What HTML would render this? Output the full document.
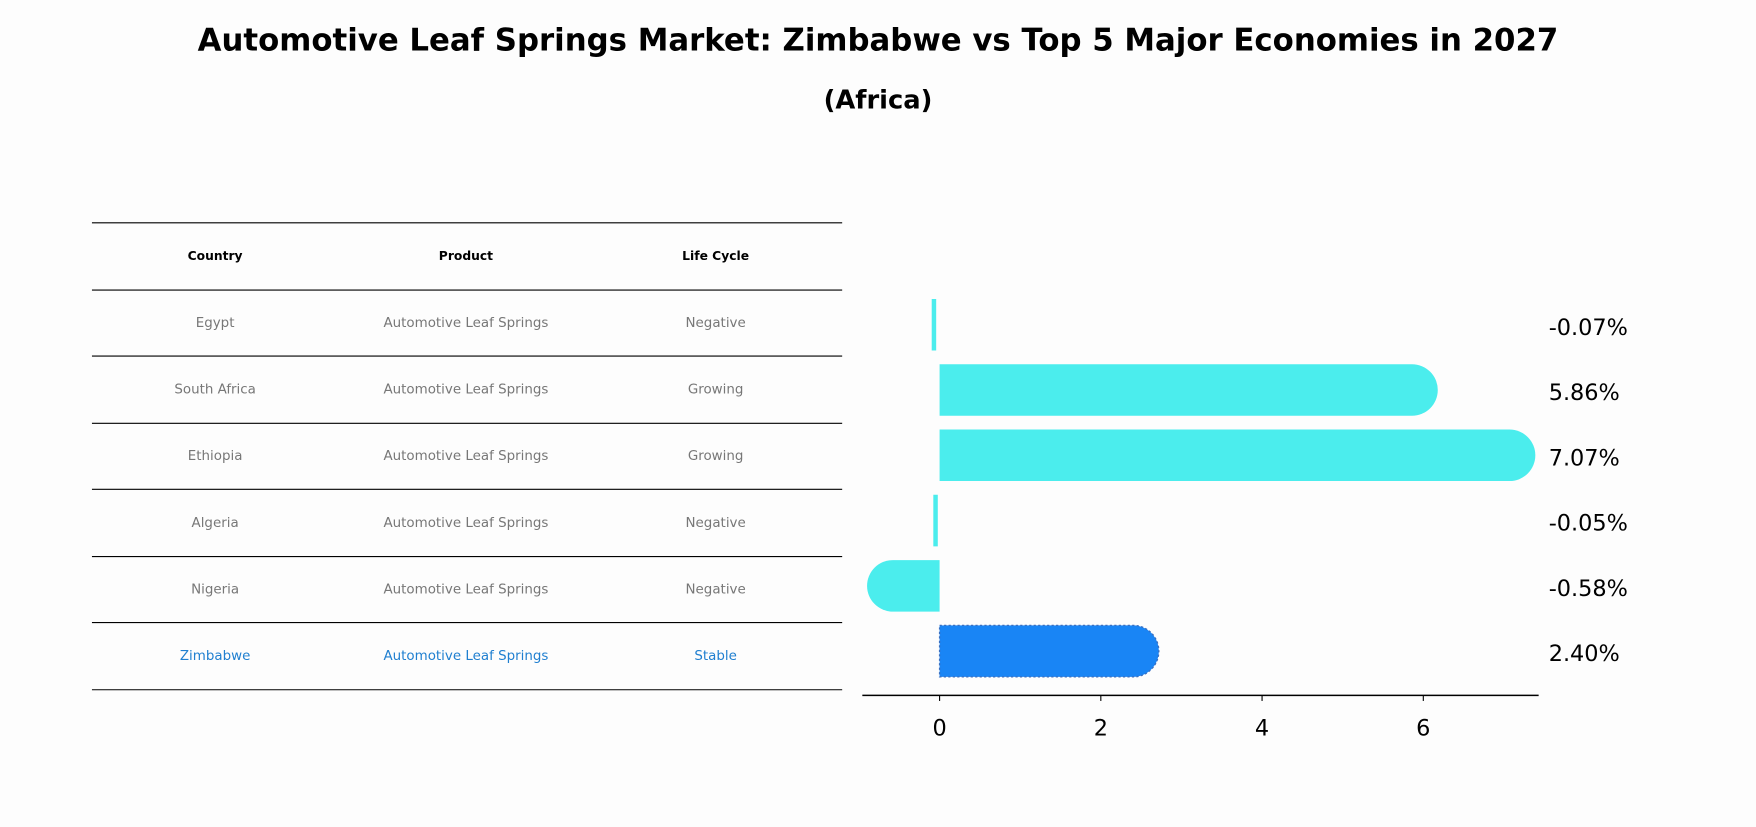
<!DOCTYPE html>
<html><head><meta charset="utf-8"><style>
body{margin:0;background:#fdfdfd;width:1756px;height:823px;overflow:hidden;font-family:"DejaVu Sans","Liberation Sans",sans-serif}
</style></head><body>
<svg id="chart" width="1756" height="823" viewBox="0 0 1568 735" xmlns="http://www.w3.org/2000/svg" font-family="DejaVu Sans, Liberation Sans, sans-serif">
<text x="784" y="45" text-anchor="middle" font-size="27.5" font-weight="bold" fill="#000">Automotive Leaf Springs Market: Zimbabwe vs Top 5 Major Economies in 2027</text>
<text x="784" y="97" text-anchor="middle" font-size="23" font-weight="bold" fill="#000">(Africa)</text>
<g id="table"></g>
<g id="bars"></g>
<line x1="770" y1="621" x2="1374" y2="621" stroke="#000" stroke-width="1.3"/>
</svg>
<script>
const countries=["Egypt","South Africa","Ethiopia","Algeria","Nigeria","Zimbabwe"];
const products=["Automotive Leaf Springs","Automotive Leaf Springs","Automotive Leaf Springs","Automotive Leaf Springs","Automotive Leaf Springs","Automotive Leaf Springs"];
const lifeCycles=["Negative","Growing","Growing","Negative","Negative","Stable"];
const values=[-0.07,5.86,7.07,-0.05,-0.58,2.40];
const xTicks=[0,2,4,6];
const NS="http://www.w3.org/2000/svg";
function mk(tag,attrs,parent){const e=document.createElementNS(NS,tag);for(const k in attrs)e.setAttribute(k,attrs[k]);parent.appendChild(e);return e;}
const xs=v=>839+v*72;
const rowY=i=>290+i*58.3;
const tbl=document.getElementById('table');
const lineYs=[199,259,318,378,437,497,556,616];
lineYs.forEach(y=>{const l=mk('line',{x1:82,x2:752,y1:y,y2:y,stroke:'#000','stroke-width':1},tbl);

});
const colX=[192,416,639];
["Country","Product","Life Cycle"].forEach((h,j)=>{const t=mk('text',{x:colX[j],y:232,'text-anchor':'middle','font-size':11,'font-weight':'bold',fill:'#000'},tbl);t.textContent=h;

});
countries.forEach((c,i)=>{const y=292+i*59.5;const col=c==="Zimbabwe"?'#1f7fd0':'#777';
[c,products[i],lifeCycles[i]].forEach((s,j)=>{const t=mk('text',{x:colX[j],y:y,'text-anchor':'middle','font-size':12,fill:col},tbl);t.textContent=s;

});});
const g=document.getElementById('bars');
const h=46,r=23;
values.forEach((v,i)=>{const cy=rowY(i);const x0=xs(0),x1=xs(v);const z=countries[i]==="Zimbabwe";const col=z?'#1985f5':'#4beded';
let d;
if(Math.abs(v)<0.15){d=`M${Math.min(x0,x1)-2},${cy-h/2}h4v${h}h-4z`;}
else if(v>0){d=`M${x0},${cy-h/2}H${x1}A${r},${r} 0 0 1 ${x1},${cy+h/2}H${x0}Z`;}
else{d=`M${x0},${cy-h/2}H${x1}A${r},${r} 0 0 0 ${x1},${cy+h/2}H${x0}Z`;}
const p=mk('path',{d:d,fill:col},g);
if(z){p.setAttribute('stroke','#3a6fc0');p.setAttribute('stroke-dasharray','2,2');p.setAttribute('stroke-width','1.2');}


const t=mk('text',{x:1383,y:cy+9,'font-size':20,fill:'#000'},g);t.textContent=v.toFixed(2)+'%';

});
xTicks.forEach(v=>{const l=mk('line',{x1:xs(v),x2:xs(v),y1:621,y2:626,stroke:'#000'},g);


const t=mk('text',{x:xs(v),y:657,'text-anchor':'middle','font-size':20,fill:'#000'},g);t.textContent=v;

});
</script>
</body></html>
